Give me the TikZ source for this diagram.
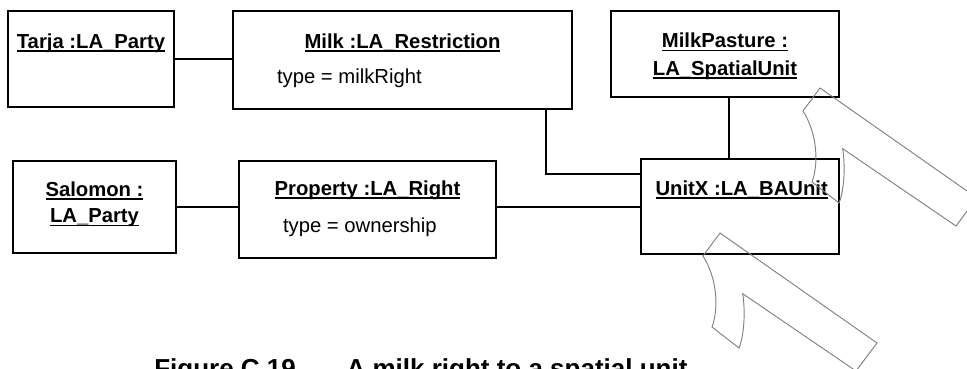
\documentclass[tikz,border=0pt]{standalone}
\usepackage{fontspec}
\setmainfont{Liberation Sans}
\usetikzlibrary{calc}

% object name, underlined a little below the baseline
\newcommand\objname[1]{\setbox0\hbox{\bfseries #1}\rlap{\rule[-2.7pt]{\wd0}{1.05pt}}\box0}

\tikzset{
  umlbox/.style={draw, line width=1.5pt, inner sep=0pt, outer sep=0pt, rectangle},
  link/.style={line width=1.5pt},
  lbl/.style={inner sep=0pt, outer sep=0pt, anchor=base, font=\fontsize{15.2pt}{20.3pt}\selectfont},
  attr/.style={lbl, anchor=base west},
  hook/.style={draw=black!50, line width=0.7pt, line join=miter},
}

\begin{document}
\begin{tikzpicture}[x=0.75pt, y=-0.75pt]
\useasboundingbox (0,0) rectangle (967,368);

% object boxes
\node[umlbox, minimum width=124.5pt, minimum height=72pt]   (tarja)    at (91,59)      {};
\node[umlbox, minimum width=254.25pt, minimum height=73.5pt] (milk)    at (402.5,60)   {};
\node[umlbox, minimum width=171pt, minimum height=64.5pt]   (pasture)  at (725,54)     {};
\node[umlbox, minimum width=122.25pt, minimum height=69pt]  (salomon)  at (94.5,207)   {};
\node[umlbox, minimum width=192.75pt, minimum height=72.75pt] (property) at (367.5,209.5) {};
\node[umlbox, minimum width=148.5pt, minimum height=71.25pt] (unitx)   at (740,206.5)  {};

% object names and attributes
\node[lbl] (tarjaName)    at (91,48)    {\objname{Tarja :LA\_Party}};
\node[lbl] (milkName)     at (402.5,48) {\objname{Milk :LA\_Restriction}};
\node[attr] (milkType)    at (277,83)   {type = milkRight};
\node[lbl] (pastureName)  at (725,47.7) {\objname{MilkPasture :}};
\node[lbl] (pastureClass) at (725,75)   {\objname{LA\_SpatialUnit}};
\node[lbl] (salomonName)  at (94.5,196) {\objname{Salomon :}};
\node[lbl] (salomonClass) at (94.5,222.7) {\objname{LA\_Party}};
\node[lbl] (propertyName) at (367.5,195) {\objname{Property :LA\_Right}};
\node[attr] (propertyType) at (283,232) {type = ownership};
\node[lbl] (unitxName)    at (741.7,195) {\objname{UnitX :LA\_BAUnit}};

% links
\coordinate (milkBend) at (546,174);
\coordinate (pastureDrop) at (729,0);
\draw[link] (tarja.east) -- (tarja.east -| milk.west);
\draw[link] (salomon.east) -- (salomon.east -| property.west);
\draw[link] (unitx.west) -- (unitx.west -| property.east);
\draw[link] (milk.south -| milkBend) |- (unitx.west |- milkBend);
\draw[link] (pasture.south -| pastureDrop) -- (unitx.north -| pastureDrop);

\begin{scope}
  \clip (0,0) rectangle (967,368);
  % hook-shaped outlines
  \foreach \hx/\hy in {820/88, 720/233} {
    \draw[hook, shift={(\hx,\hy)}]
      (0,0) -- (-17,23) .. controls (-3,45) and (-1,75) .. (-8,94)
      -- (19,115) .. controls (25,100) and (25,75) .. (22.7,60.7)
      -- (136,138) -- (157,110) -- cycle;
  }
  % caption
  \node[inner sep=0pt, anchor=base west, font=\fontsize{19.5pt}{24pt}\selectfont\bfseries]
    (caption) at (154,377) {Figure C.19\hspace{1.95em}A milk right to a spatial unit};
\end{scope}
\end{tikzpicture}
\end{document}
